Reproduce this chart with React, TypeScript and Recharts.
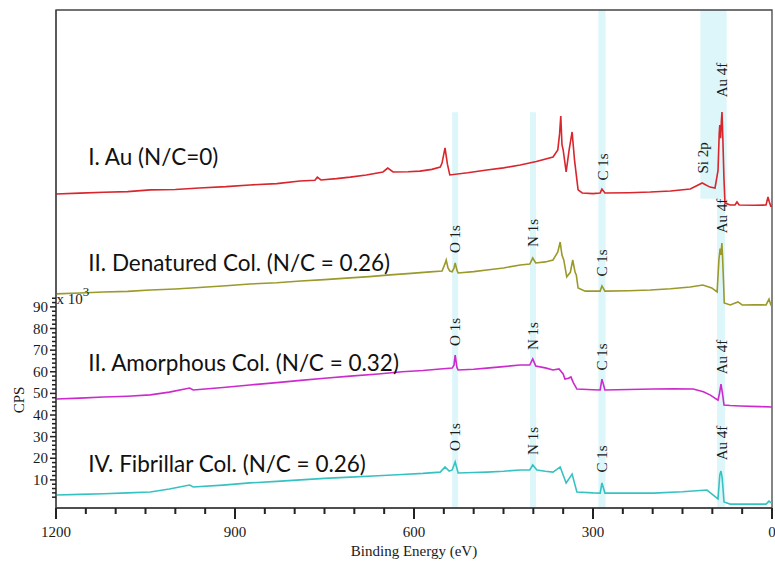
import React from 'react';
import { LineChart, Line, XAxis, YAxis, ReferenceArea, ReferenceDot } from 'recharts';

// XPS survey spectra, binding energy (eV) vs CPS (x10^3)
type Pt = { be: number; cps: number };
const toPts = (arr: number[][]): Pt[] => arr.map(([be, cps]) => ({ be, cps }));

const auSpectrum = toPts([
  [1200, 142.2], [1160, 142.6], [1120, 143.0], [1080, 143.3], [1042, 144.1], [1000, 144.3],
  [960, 145.0], [915, 145.6], [875, 146.4], [830, 147.0], [791, 148.2], [766, 148.6],
  [762, 150.0], [756, 148.7], [730, 149.3], [707, 150.0], [680, 151.0], [652, 152.4],
  [644, 154.2], [635, 152.4], [610, 152.5], [590, 152.8], [570, 153.6], [556, 154.7],
  [553, 156.5], [548, 163.5], [544, 156.0], [540, 151.0], [510, 152.0], [478, 153.3],
  [450, 154.3], [422, 155.6], [395, 157.2], [367, 159.3], [359, 162.6], [356, 170.0],
  [354, 178.3], [352, 165.0], [350, 162.6], [345, 152.4], [340, 162.6], [335, 170.9],
  [331, 158.0], [325, 144.1], [318, 142.7], [300, 142.4], [288, 142.7], [285, 144.5],
  [280, 142.7], [240, 142.8], [204, 143.1], [170, 143.6], [137, 144.5], [117, 147.3],
  [104, 145.4], [95.5, 145.0], [90.5, 153.0], [88.5, 170.0], [87.5, 174.1], [86.2, 168.0],
  [84.8, 176.0], [83.8, 180.1], [82.3, 167.2], [80.6, 150.0], [78.8, 138.0], [70, 137.1],
  [62, 137.1], [58.7, 138.5], [55, 137.1], [30, 137.0], [10, 137.1], [6.7, 140.8],
  [4.5, 138.5], [2, 136.6], [0, 136.6],
]);

const denaturedSpectrum = toPts([
  [1200, 96.0], [1160, 96.4], [1120, 96.9], [1080, 97.2], [1042, 97.8], [1000, 98.3],
  [960, 99.0], [915, 99.8], [875, 100.6], [830, 101.2], [790, 102.0], [750, 102.6],
  [707, 103.4], [675, 104.0], [640, 104.8], [605, 105.5], [573, 106.2], [553, 106.6],
  [548, 110.0], [546, 111.7], [543, 108.0], [540, 106.6], [536, 106.2], [533, 108.0],
  [531, 110.3], [528, 107.0], [526, 105.7], [500, 106.3], [478, 107.1], [450, 108.0],
  [422, 109.4], [406, 109.8], [401, 112.6], [396, 110.3], [380, 110.8], [367, 111.7],
  [359, 115.4], [355, 120.0], [352, 114.0], [349, 111.7], [344, 103.9], [338, 106.0],
  [334, 111.7], [330, 106.0], [328, 104.8], [325, 98.8], [313, 97.3], [288, 97.3],
  [285, 99.7], [280, 97.3], [240, 97.5], [204, 97.8], [170, 98.4], [137, 99.2],
  [116, 100.1], [101, 98.8], [92, 96.9], [89, 111.7], [87, 117.0], [85.5, 114.0],
  [84, 119.5], [83, 114.0], [81, 100.0], [80, 91.8], [70, 90.9], [57, 92.3], [50, 90.9],
  [30, 91.0], [10, 90.9], [5, 93.6], [2, 91.0], [0, 91.3],
]);

const amorphousSpectrum = toPts([
  [1200, 47.4], [1160, 47.8], [1120, 48.3], [1080, 48.7], [1042, 49.3], [1010, 50.6],
  [976, 52.5], [970, 51.6], [920, 52.7], [875, 53.9], [830, 55.0], [790, 56.0],
  [750, 57.0], [707, 58.0], [660, 59.0], [620, 60.0], [585, 60.6], [556, 61.3],
  [536, 61.7], [533, 63.0], [531, 67.7], [528, 62.0], [526, 60.8], [500, 61.2],
  [478, 61.7], [450, 62.4], [422, 63.1], [406, 63.1], [401, 65.9], [396, 62.7],
  [380, 61.8], [367, 60.8], [357, 61.3], [350, 59.0], [347, 56.6], [341, 57.0],
  [337, 57.6], [333, 55.0], [327, 52.0], [300, 51.7], [288, 51.6], [285, 56.6],
  [280, 51.6], [240, 51.8], [199, 52.0], [165, 52.1], [132, 52.0], [115, 50.8],
  [104, 49.3], [90.5, 46.9], [88, 50.0], [85.5, 54.3], [83, 50.0], [80.4, 44.6],
  [70, 44.4], [53.6, 44.2], [20, 43.9], [0, 43.7],
]);

const fibrillarSpectrum = toPts([
  [1200, 3.0], [1160, 3.3], [1120, 3.6], [1080, 4.0], [1042, 4.4], [1010, 5.8],
  [976, 7.6], [970, 6.7], [920, 7.6], [875, 8.6], [830, 9.3], [790, 10.0],
  [750, 10.7], [707, 11.3], [660, 11.9], [620, 12.5], [585, 13.0], [556, 13.6],
  [548, 16.0], [541, 14.1], [536, 14.6], [531, 18.3], [526, 13.2], [500, 13.4],
  [478, 13.6], [450, 14.0], [422, 14.6], [406, 14.6], [401, 16.9], [394, 14.6],
  [380, 14.0], [367, 13.6], [355, 16.0], [345, 8.6], [335, 12.7], [327, 4.4],
  [300, 4.0], [288, 3.9], [285, 8.6], [280, 3.9], [240, 3.9], [199, 3.9], [150, 4.5],
  [109, 5.3], [90.5, 1.2], [87.5, 12.3], [85.5, 14.1], [83.5, 11.0], [80.4, -0.2],
  [70, -1.2], [30, -1.2], [10, -1.2], [5, 0.2], [2, -0.5], [0, -0.7],
]);

const xTicks = [
  0, 50, 100, 150, 200, 250, 300, 350, 400, 450, 500, 550, 600,
  650, 700, 750, 800, 850, 900, 950, 1000, 1050, 1100, 1150, 1200,
];
const xLabelTicks = [0, 300, 600, 900, 1200];
const yTicks = [
  2, 4, 6, 8, 10, 12, 14, 16, 18, 20, 22, 24, 26, 28, 30, 32, 34, 36, 38, 40,
  42, 44, 46, 48, 50, 52, 54, 56, 58, 60, 62, 64, 66, 68, 70, 72, 74, 76, 78, 80,
  82, 84, 86, 88, 90, 92, 94,
];
const yLabelTicks = [10, 20, 30, 40, 50, 60, 70, 80, 90];

const X_DOMAIN: [number, number] = [0, 1200];
const Y_DOMAIN: [number, number] = [-3, 227.3];

// highlighted peak regions
const bands = [
  { be1: 526, be2: 536, c1: -3, c2: 180 },
  { be1: 395.5, be2: 405.5, c1: -3, c2: 180 },
  { be1: 279, be2: 291, c1: -3, c2: 227.3 },
  { be1: 76, be2: 120, c1: 140, c2: 227.3 },
  { be1: 79, be2: 92, c1: -3, c2: 140 },
];

const peakLabels = [
  { text: 'C 1s', be: 283, cps: 154.7 },
  { text: 'Si 2p', be: 115.6, cps: 158.9 },
  { text: 'Au 4f', be: 83.8, cps: 194.9 },
  { text: 'O 1s', be: 531, cps: 121.4 },
  { text: 'N 1s', be: 400.5, cps: 124.2 },
  { text: 'C 1s', be: 285, cps: 110.3 },
  { text: 'Au 4f', be: 83.8, cps: 132.0 },
  { text: 'O 1s', be: 531, cps: 78.4 },
  { text: 'N 1s', be: 400.5, cps: 76.5 },
  { text: 'C 1s', be: 285, cps: 66.8 },
  { text: 'Au 4f', be: 83.8, cps: 66.8 },
  { text: 'O 1s', be: 531, cps: 29.8 },
  { text: 'N 1s', be: 400.5, cps: 28.0 },
  { text: 'C 1s', be: 285, cps: 19.7 },
  { text: 'Au 4f', be: 83.8, cps: 27.1 },
];

const sampleLabels = [
  { text: 'I. Au (N/C=0)', be: 1146, cps: 159.5 },
  { text: 'II. Denatured Col. (N/C = 0.26)', be: 1146, cps: 110.5 },
  { text: 'II. Amorphous Col. (N/C = 0.32)', be: 1146, cps: 64.2 },
  { text: 'IV. Fibrillar Col. (N/C = 0.26)', be: 1146, cps: 17.8 },
];

const SERIF = '"Liberation Serif", "Times New Roman", serif';
const SANS = 'Lato, "Noto Sans", sans-serif';
const AXIS = '#444';
const TICK = '#222';
const TEXT = '#1a1a1a';

const renderXTick = (props: any) => {
  const { x, y, payload } = props;
  if (!xLabelTicks.includes(payload.value)) return <g />;
  return (
    <text x={x} y={Number(y) + 29} textAnchor="middle" fontSize={15} fontFamily={SERIF} fill={TEXT}>
      {payload.value}
    </text>
  );
};

const renderYTick = (props: any) => {
  const { x, y, payload } = props;
  if (!yLabelTicks.includes(payload.value)) return <g />;
  return (
    <text x={Number(x) - 8} y={Number(y) + 5} textAnchor="end" fontSize={15} fontFamily={SERIF} fill={TEXT}>
      {payload.value}
    </text>
  );
};

export default function App() {
  return (
    <div style={{ position: 'absolute', left: 0, top: 0, width: 775, height: 562, background: '#fff' }}>
      <LineChart width={775} height={562} margin={{ top: 10, right: 3, bottom: 0, left: 0 }}>
        <XAxis
          type="number"
          dataKey="be"
          domain={X_DOMAIN}
          allowDataOverflow
          reversed
          ticks={xLabelTicks}
          interval={0}
          tick={renderXTick}
          tickLine={false}
          tickSize={0}
          tickMargin={0}
          height={54}
          axisLine={{ stroke: AXIS, strokeWidth: 1.3 }}
        />
        <YAxis
          type="number"
          dataKey="cps"
          domain={Y_DOMAIN}
          allowDataOverflow
          ticks={yLabelTicks}
          interval={0}
          tick={renderYTick}
          tickLine={false}
          tickSize={0}
          tickMargin={0}
          width={56}
          axisLine={{ stroke: AXIS, strokeWidth: 1.3 }}
        />

        {bands.map((b, i) => (
          <ReferenceArea
            key={'band' + i}
            x1={b.be1}
            x2={b.be2}
            y1={b.c1}
            y2={b.c2}
            fill="#dcf6fa"
            fillOpacity={1}
            stroke="none"
            ifOverflow="visible"
          />
        ))}

        <ReferenceArea
          x1={0}
          x2={1200}
          y1={Y_DOMAIN[0]}
          y2={Y_DOMAIN[1]}
          fill="none"
          stroke={AXIS}
          strokeWidth={1.3}
          ifOverflow="visible"
        />

        {/* tick marks hanging off the axes */}
        {xTicks.map((v) => (
          <ReferenceDot
            key={'xt' + v}
            x={v}
            y={Y_DOMAIN[0]}
            ifOverflow="visible"
            shape={(s: any) => (
              <rect x={s.cx - 1} y={s.cy} width={2} height={xLabelTicks.includes(v) ? 11 : 6} fill={TICK} />
            )}
          />
        ))}
        {yTicks.map((v) => (
          <ReferenceDot
            key={'yt' + v}
            x={1200}
            y={v}
            ifOverflow="visible"
            shape={(s: any) => {
              const len = yLabelTicks.includes(v) ? 6 : 4;
              return <rect x={s.cx - len} y={s.cy - 0.75} width={len} height={1.5} fill={TICK} />;
            }}
          />
        ))}

        <Line data={auSpectrum} dataKey="cps" stroke="#d9252c" strokeWidth={1.6} dot={false} isAnimationActive={false} />
        <Line data={denaturedSpectrum} dataKey="cps" stroke="#9b992a" strokeWidth={1.6} dot={false} isAnimationActive={false} />
        <Line data={amorphousSpectrum} dataKey="cps" stroke="#cc2acc" strokeWidth={1.6} dot={false} isAnimationActive={false} />
        <Line data={fibrillarSpectrum} dataKey="cps" stroke="#37c2c2" strokeWidth={1.6} dot={false} isAnimationActive={false} />

        {peakLabels.map((p, i) => (
          <ReferenceDot
            key={'pk' + i}
            x={p.be}
            y={p.cps}
            ifOverflow="visible"
            shape={(s: any) => (
              <text
                x={s.cx}
                y={s.cy}
                transform={`rotate(-90, ${s.cx}, ${s.cy})`}
                textAnchor="middle"
                dominantBaseline="central"
                fontSize={15}
                fontFamily={SERIF}
                fill={TEXT}
              >
                {p.text}
              </text>
            )}
          />
        ))}

        {sampleLabels.map((p, i) => (
          <ReferenceDot
            key={'sl' + i}
            x={p.be}
            y={p.cps}
            ifOverflow="visible"
            shape={(s: any) => (
              <text x={s.cx} y={s.cy} textAnchor="start" dominantBaseline="central" fontSize={22.5} fontFamily={SANS} fill="#111">
                {p.text}
              </text>
            )}
          />
        ))}

        <ReferenceDot
          x={1199}
          y={93.5}
          ifOverflow="visible"
          shape={(s: any) => (
            <text x={s.cx} y={s.cy + 5} fontSize={15} fontFamily={SERIF} fill={TEXT}>
              x 10<tspan dy={-8} fontSize={13}>3</tspan>
            </text>
          )}
        />
        <ReferenceDot
          x={1262}
          y={47}
          ifOverflow="visible"
          shape={(s: any) => (
            <text
              x={s.cx}
              y={s.cy}
              transform={`rotate(-90, ${s.cx}, ${s.cy})`}
              textAnchor="middle"
              dominantBaseline="central"
              fontSize={15}
              fontFamily={SERIF}
              fill={TEXT}
            >
              CPS
            </text>
          )}
        />
        <ReferenceDot
          x={600}
          y={-23}
          ifOverflow="visible"
          shape={(s: any) => (
            <text x={s.cx} y={s.cy} textAnchor="middle" dominantBaseline="central" fontSize={15} fontFamily={SERIF} fill={TEXT}>
              Binding Energy (eV)
            </text>
          )}
        />
      </LineChart>
    </div>
  );
}
